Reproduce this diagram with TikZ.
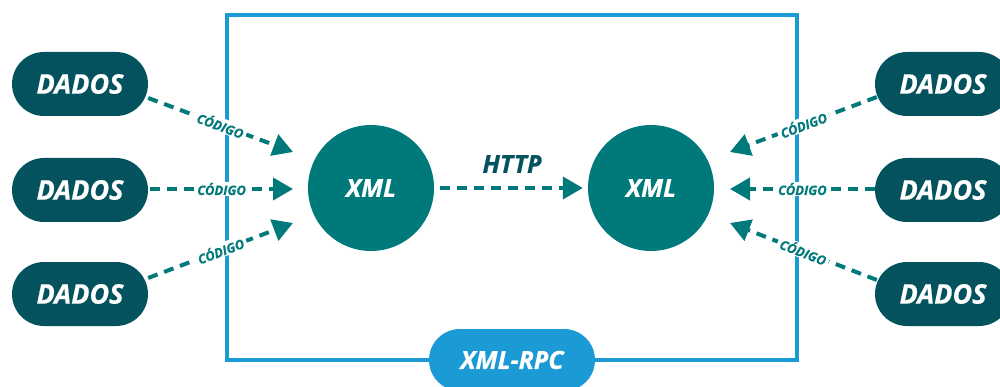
\documentclass[tikz,border=0pt]{standalone}
\usepackage{fontspec}
\setmainfont{Open Sans}[BoldItalicFeatures={FakeBold=0.6}]
\usetikzlibrary{arrows.meta}
\definecolor{pilldark}{HTML}{03525E}
\definecolor{tealc}{HTML}{00797B}
\definecolor{frameblue}{HTML}{1B9AD6}
\tikzset{
  dados/.style={draw=none, fill=pilldark, rounded corners=32pt, minimum width=136pt,
    minimum height=64pt, inner sep=0pt, text=white,
    font=\fontsize{27}{31}\selectfont\bfseries\itshape},
  xmlnode/.style={circle, fill=tealc, minimum size=126pt, inner sep=0pt, text=white,
    font=\fontsize{25}{29}\selectfont\bfseries\itshape},
  rpcpill/.style={fill=frameblue, rounded corners=31pt, minimum width=166pt,
    minimum height=62pt, inner sep=0pt, text=white,
    font=\fontsize{25}{29}\selectfont\bfseries\itshape},
  flow/.style={draw=tealc, line width=4pt, dash pattern=on 10pt off 7pt,
    -{Triangle[length=20pt,width=22pt]}},
  codelbl/.style={fill=white, sloped, inner xsep=3pt, inner ysep=1pt, text=tealc,
    font=\fontsize{13}{15}\selectfont\bfseries\itshape},
}
\begin{document}
\begin{tikzpicture}[x=1pt,y=-1pt]
\useasboundingbox (0,0) rectangle (1000,387);
% outer frame
\draw[frameblue, line width=4pt] (227,15) rectangle (797,360);
\node[rpcpill] (rpc) at (512,360) {XML-RPC};
% data sources
\node[dados] (dl1) at (80,84) {DADOS};
\node[dados] (dl2) at (80,190) {DADOS};
\node[dados] (dl3) at (80,294) {DADOS};
\node[dados] (dr1) at (943,84) {DADOS};
\node[dados] (dr2) at (943,190) {DADOS};
\node[dados] (dr3) at (943,294) {DADOS};
% xml circles
\node[xmlnode] (xl) at (371,188) {XML};
\node[xmlnode] (xr) at (651,188) {XML};
% arrow tips
\coordinate (tl1) at (293,152);
\coordinate (tl2) at (293,189);
\coordinate (tl3) at (293,223);
\coordinate (tr1) at (730,152);
\coordinate (tr2) at (730,189);
\coordinate (tr3) at (730,223);
% left flows
\draw[flow] ([yshift=-14pt]dl1.east) -- node[codelbl]{CÓDIGO} (tl1);
\draw[flow] ([xshift=2pt,yshift=1pt]dl2.east) -- node[codelbl]{CÓDIGO} (tl2);
\draw[flow] ([yshift=16pt]dl3.east) -- node[codelbl]{CÓDIGO} (tl3);
% right flows
\draw[flow] ([xshift=2pt,yshift=-13pt]dr1.west) -- node[codelbl]{CÓDIGO} (tr1);
\draw[flow] ([yshift=1pt]dr2.west) -- node[codelbl]{CÓDIGO} (tr2);
\draw[flow] ([xshift=2pt,yshift=14pt]dr3.west) -- node[codelbl]{CÓDIGO} (tr3);
% http link
\draw[flow, shorten <=6pt, shorten >=5pt] (xl) -- (xr);
\node[text=pilldark, font=\fontsize{25}{29}\selectfont\bfseries\itshape] (http) at (512,164) {HTTP};
\end{tikzpicture}
\end{document}
